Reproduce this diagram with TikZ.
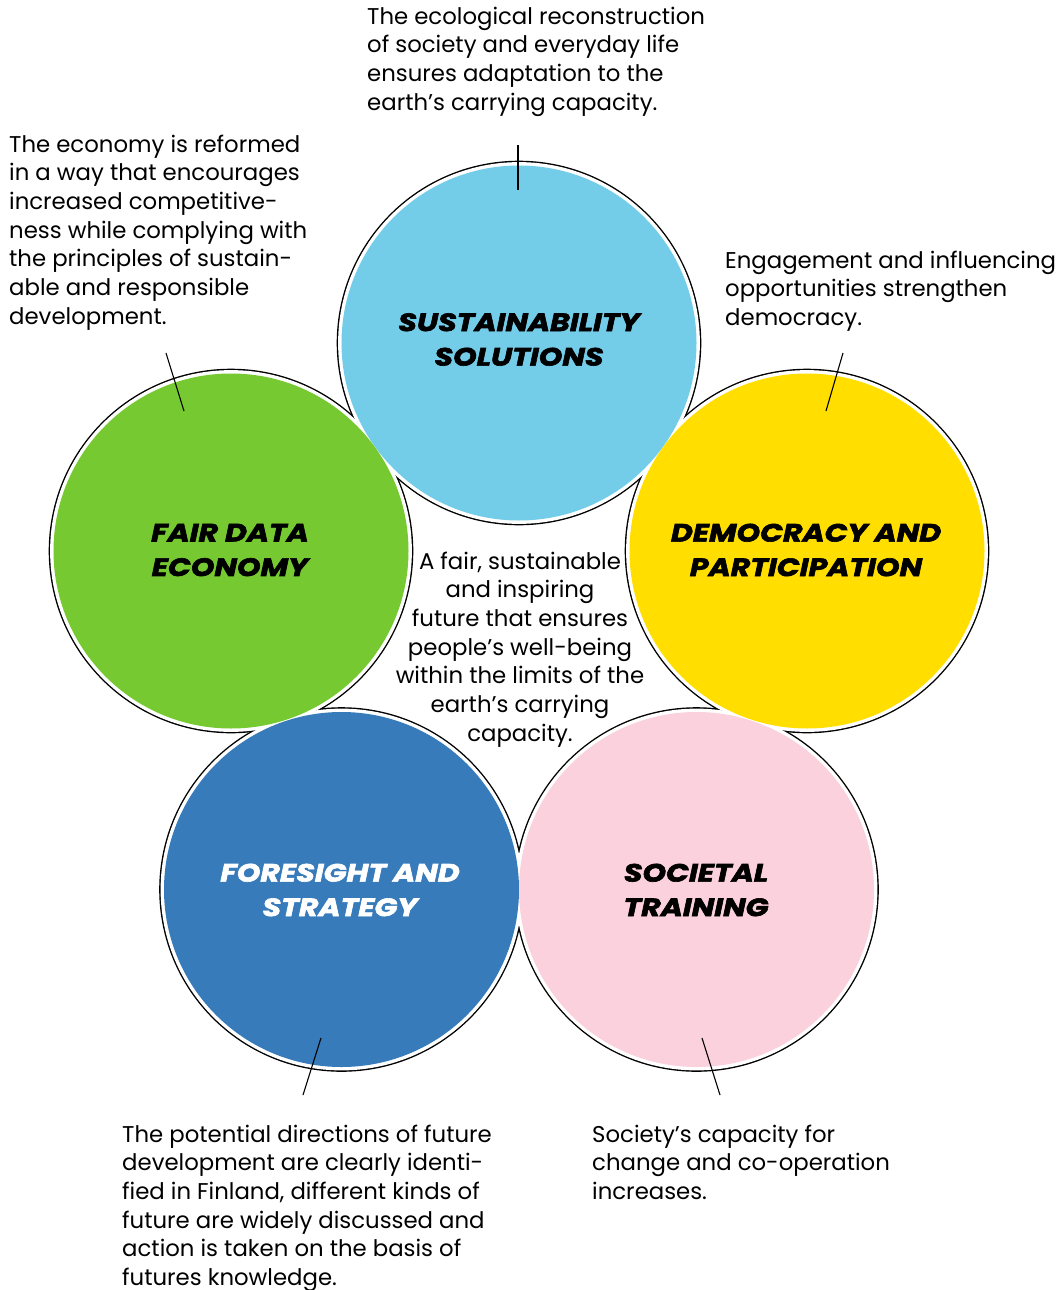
\documentclass[tikz,border=0pt]{standalone}
\usepackage{fontspec}
\setmainfont{Poppins}
\newfontfamily\headfont[BoldItalicFeatures={FakeBold=2.5,FakeStretch=1.2}]{Poppins}
\definecolor{cblue}{HTML}{74CDE8}
\definecolor{cgreen}{HTML}{76C930}
\definecolor{cyellow}{HTML}{FFDE00}
\definecolor{cdark}{HTML}{387BBA}
\definecolor{cpink}{HTML}{FAD1DC}
\tikzset{
  disc/.style={circle, inner sep=0pt, minimum size=355pt},
  heading/.style={align=center, font=\headfont\bfseries\itshape\fontsize{25}{34.5}\selectfont},
  body/.style={inner sep=0pt, font=\fontsize{22.8}{28.7}\selectfont},
  leader/.style={line width=1.1pt}
}
\begin{document}
\begin{tikzpicture}[x=1pt,y=-1pt]
\useasboundingbox (0,0) rectangle (1059,1290);
% centres
\coordinate (pS) at (519,343);
\coordinate (pF) at (231,551);
\coordinate (pD) at (807,551);
\coordinate (pO) at (341.5,889.5);
\coordinate (pT) at (696.5,889.5);
% outline of the union
\foreach \p in {pS,pF,pD,pO,pT} \fill[black] (\p) circle (182.3);
\foreach \p in {pS,pF,pD,pO,pT} \fill[white] (\p) circle (180.9);
% coloured discs
\node[disc, fill=cblue] (sus) at (pS) {};
\node[disc, fill=cgreen] (fair) at (pF) {};
\node[disc, fill=cyellow] (dem) at (pD) {};
\node[disc, fill=cdark] (fore) at (pO) {};
\node[disc, fill=cpink] (soc) at (pT) {};
% headings
\node[heading] (hS) at (519,339.5) {SUSTAINABILITY\\SOLUTIONS};
\node[heading] (hF) at (230,550) {FAIR DATA\\ECONOMY};
\node[heading] (hD) at (806,550) {DEMOCRACY AND\\PARTICIPATION};
\node[heading, text=white] (hO) at (340,890) {FORESIGHT AND\\STRATEGY};
\node[heading] (hT) at (696,890) {SOCIETAL\\TRAINING};
% leader lines
\coordinate (lS1) at (518,145); \coordinate (lS2) at (518,190);
\coordinate (lF1) at (166,353); \coordinate (lF2) at (184,411);
\coordinate (lD1) at (843,353); \coordinate (lD2) at (826,411);
\coordinate (lO1) at (321,1038); \coordinate (lO2) at (303,1095);
\coordinate (lT1) at (702,1038); \coordinate (lT2) at (720,1095);
\draw[leader] (lS1) -- (lS2);
\draw[leader] (lF1) -- (lF2);
\draw[leader] (lD1) -- (lD2);
\draw[leader] (lO1) -- (lO2);
\draw[leader] (lT1) -- (lT2);
% texts (anchor at the baseline of the last line)
\node[body, align=left, anchor=base west] (tS) at (367,110.1) {The ecological reconstruction\\of society and everyday life\\ensures adaptation to the\\earth’s carrying capacity.};
\node[body, align=left, anchor=base west] (tF) at (9,324.2) {The economy is reformed\\in a way that encourages\\increased competitive-\\ness while complying with\\the principles of sustain-\\able and responsible\\development.};
\node[body, align=left, anchor=base west] (tD) at (725,325.4) {Engagement and influencing\\opportunities strengthen\\democracy.};
\node[body, align=left, anchor=base west] (tO) at (122,1285.5) {The potential directions of future\\development are clearly identi-\\fied in Finland, different kinds of\\future are widely discussed and\\action is taken on the basis of\\futures knowledge.};
\node[body, align=left, anchor=base west] (tT) at (592,1199.4) {Society’s capacity for\\change and co-operation\\increases.};
\node[body, align=center, anchor=base] (tC) at (520,741.2) {A fair, sustainable\\and inspiring\\future that ensures\\people’s well-being\\within the limits of the\\earth’s carrying\\capacity.};
\end{tikzpicture}
\end{document}
